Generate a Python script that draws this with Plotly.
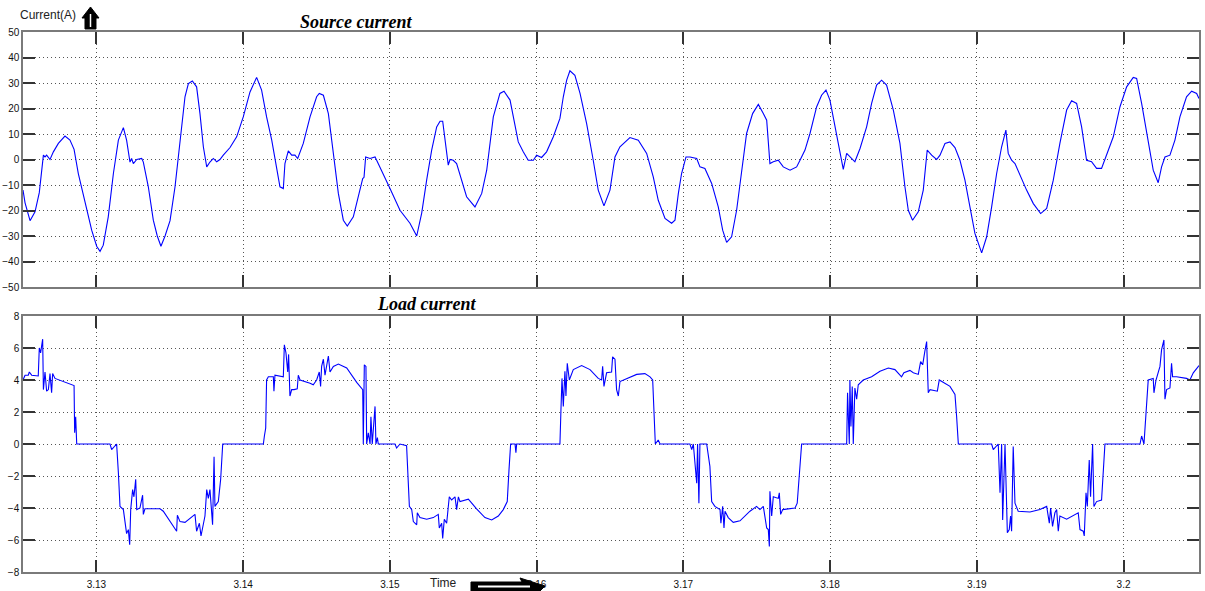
import plotly.graph_objects as go
from plotly.subplots import make_subplots

# ---- Source current (A) samples ----
src_t = [3.12500, 3.12514, 3.12548, 3.12582, 3.12611, 3.12627, 3.12639, 3.12650, 3.12661, 3.12684,
         3.12707, 3.12741, 3.12786, 3.12820, 3.12848, 3.12877, 3.12922, 3.12968, 3.13002, 3.13025,
         3.13047, 3.13081, 3.13116, 3.13150, 3.13184, 3.13206, 3.13229, 3.13240, 3.13252, 3.13275,
         3.13309, 3.13320, 3.13354, 3.13388, 3.13415, 3.13440, 3.13468, 3.13502, 3.13536, 3.13570,
         3.13604, 3.13627, 3.13654, 3.13683, 3.13706, 3.13729, 3.13752, 3.13774, 3.13797, 3.13820,
         3.13842, 3.13865, 3.13911, 3.13956, 3.14001, 3.14047, 3.14092, 3.14126, 3.14160, 3.14195,
         3.14229, 3.14251, 3.14274, 3.14285, 3.14308, 3.14331, 3.14353, 3.14372, 3.14410, 3.14456,
         3.14501, 3.14519, 3.14547, 3.14581, 3.14615, 3.14649, 3.14683, 3.14710, 3.14751, 3.14792,
         3.14815, 3.14824, 3.14835, 3.14865, 3.14899, 3.14910, 3.14955, 3.15001, 3.15069, 3.15137,
         3.15183, 3.15217, 3.15251, 3.15285, 3.15319, 3.15342, 3.15360, 3.15382, 3.15398, 3.15410,
         3.15432, 3.15455, 3.15489, 3.15523, 3.15580, 3.15626, 3.15660, 3.15705, 3.15750, 3.15778,
         3.15819, 3.15853, 3.15875, 3.15909, 3.15943, 3.15978, 3.16000, 3.16034, 3.16068, 3.16114,
         3.16159, 3.16182, 3.16205, 3.16227, 3.16261, 3.16296, 3.16341, 3.16386, 3.16420, 3.16459,
         3.16500, 3.16534, 3.16568, 3.16636, 3.16693, 3.16750, 3.16795, 3.16829, 3.16875, 3.16920,
         3.16943, 3.16966, 3.16988, 3.17018, 3.17045, 3.17091, 3.17113, 3.17147, 3.17193, 3.17238,
         3.17268, 3.17295, 3.17329, 3.17363, 3.17397, 3.17431, 3.17472, 3.17511, 3.17545, 3.17568,
         3.17590, 3.17613, 3.17647, 3.17681, 3.17727, 3.17772, 3.17795, 3.17829, 3.17863, 3.17908,
         3.17942, 3.17972, 3.17999, 3.18033, 3.18067, 3.18090, 3.18113, 3.18135, 3.18169, 3.18204,
         3.18249, 3.18283, 3.18317, 3.18351, 3.18385, 3.18431, 3.18476, 3.18510, 3.18533, 3.18562,
         3.18601, 3.18635, 3.18662, 3.18692, 3.18726, 3.18749, 3.18783, 3.18817, 3.18851, 3.18885,
         3.18919, 3.18953, 3.18987, 3.19033, 3.19067, 3.19101, 3.19135, 3.19169, 3.19185, 3.19198,
         3.19214, 3.19237, 3.19260, 3.19294, 3.19339, 3.19385, 3.19435, 3.19476, 3.19521, 3.19566,
         3.19612, 3.19646, 3.19680, 3.19714, 3.19748, 3.19782, 3.19816, 3.19850, 3.19884, 3.19930,
         3.19975, 3.20021, 3.20066, 3.20089, 3.20123, 3.20168, 3.20202, 3.20236, 3.20259, 3.20282,
         3.20316, 3.20350, 3.20384, 3.20429, 3.20464, 3.20498, 3.20514]
src_i = [-12, -17, -24, -20.5, -13, -5.5, 1.7, 1, 1.7, 0,
         3, 6.3, 9.2, 7.6, 4, -5.5, -16, -27.7, -34, -36,
         -33.6, -22.5, -5.5, 7.6, 12.5, 7.6, -1, 0.4, -1.6, 0,
         0.4, -1, -10.7, -23.8, -30, -34, -30, -24, -10.7, 7.6,
         24.6, 29.8, 30.8, 28.5, 18, 5, -2.9, -1, 0.4, -0.9,
         0, 1.7, 4.7, 8.9, 16.7, 26.5, 32.2, 27.2, 16.7, 7.6,
         -4.2, -10.7, -11.4, -1.6, 3.4, 1.7, 1.7, 0.4, 6.3, 16.7,
         24.6, 25.9, 25.2, 18, 2.4, -13.3, -23.8, -26.1, -22.5, -13.3,
         -7.5, -7, 1, 0.4, 1, -0.3, -5.5, -11.4, -19.9, -25,
         -30, -21, -8, 3.7, 12.8, 15, 15, 5, -2.2, 0,
         -0.3, -1.6, -8.1, -14.6, -18.6, -13.3, -4.2, 16.7, 25.9, 26.8,
         23.3, 14.1, 6.9, 3, -0.3, -0.3, 1.7, 0.8, 3, 8.9,
         16.1, 24.6, 31.1, 34.8, 33, 25.9, 14.1, -0.3, -12, -18.2,
         -12, 1, 5, 8.6, 7.6, 2.4, -6.8, -16, -23.1, -25,
         -23.8, -13.3, -5.5, 1, 1, 0.4, -2.9, -3.5, -9.4, -18.6,
         -27.7, -32.5, -30.3, -19.9, -5.5, 10.2, 18, 21.6, 18, 15.4,
         -1.6, -0.9, -0.3, -2.9, -4.2, -2.9, -0.3, 3.7, 10.2, 20.6,
         25.2, 27.2, 23.3, 12.8, 3.7, -3.9, 2.4, 1, -0.9, 4.3,
         12.8, 22, 29.2, 31.1, 29.2, 19.4, 6.3, -10.7, -19.9, -23.8,
         -20.5, -12, 3.7, 1.7, 0, 1.7, 6.3, 6.9, 4.7, -0.3,
         -8.1, -18.6, -29, -36.6, -30.3, -18.6, -5.5, 5, 8.9, 11.5,
         2.4, -0.3, -1.6, -6.1, -12, -17.3, -21.2, -19.2, -8.1, 6.3,
         19.4, 23, 22, 12.8, -0.3, -0.9, -3.5, -3.5, 1.7, 8.9,
         20.6, 28.5, 32.2, 31.8, 22, 7.6, -4.2, -9.1, -2.9, 1,
         1.7, 7.6, 16.7, 24.6, 26.8, 25.9, 23.9]

# ---- Load current (A) samples ----
load_t = [3.12500, 3.12514, 3.12536, 3.12543, 3.12559, 3.12604, 3.12611, 3.12620, 3.12634, 3.12639,
          3.12650, 3.12661, 3.12673, 3.12684, 3.12695, 3.12702, 3.12718, 3.12848, 3.12852, 3.12859,
          3.12866, 3.13093, 3.13104, 3.13138, 3.13150, 3.13161, 3.13184, 3.13195, 3.13206, 3.13218,
          3.13227, 3.13234, 3.13247, 3.13256, 3.13268, 3.13275, 3.13297, 3.13315, 3.13320, 3.13331,
          3.13434, 3.13456, 3.13479, 3.13513, 3.13547, 3.13552, 3.13570, 3.13604, 3.13649, 3.13672,
          3.13683, 3.13702, 3.13713, 3.13724, 3.13740, 3.13752, 3.13763, 3.13774, 3.13792, 3.13802,
          3.13808, 3.13831, 3.13847, 3.13861, 3.14138, 3.14145, 3.14154, 3.14160, 3.14172, 3.14206,
          3.14210, 3.14217, 3.14274, 3.14281, 3.14292, 3.14304, 3.14310, 3.14319, 3.14331, 3.14347,
          3.14369, 3.14376, 3.14388, 3.14456, 3.14478, 3.14501, 3.14519, 3.14528, 3.14535, 3.14547,
          3.14558, 3.14581, 3.14592, 3.14615, 3.14649, 3.14706, 3.14774, 3.14815, 3.14819, 3.14826,
          3.14837, 3.14842, 3.14853, 3.14865, 3.14871, 3.14880, 3.14899, 3.14905, 3.14915, 3.14921,
          3.15035, 3.15046, 3.15069, 3.15114, 3.15133, 3.15149, 3.15160, 3.15183, 3.15187, 3.15205,
          3.15251, 3.15296, 3.15330, 3.15337, 3.15353, 3.15360, 3.15371, 3.15387, 3.15405, 3.15421,
          3.15444, 3.15455, 3.15467, 3.15478, 3.15535, 3.15591, 3.15648, 3.15694, 3.15739, 3.15773,
          3.15800, 3.15812, 3.15823, 3.15853, 3.15859, 3.15864, 3.16159, 3.16166, 3.16173, 3.16182,
          3.16193, 3.16200, 3.16209, 3.16223, 3.16250, 3.16307, 3.16364, 3.16420, 3.16443, 3.16450,
          3.16459, 3.16477, 3.16511, 3.16518, 3.16534, 3.16545, 3.16557, 3.16568, 3.16614, 3.16682,
          3.16738, 3.16773, 3.16791, 3.16800, 3.16809, 3.16829, 3.16841, 3.17045, 3.17057, 3.17068,
          3.17079, 3.17091, 3.17097, 3.17106, 3.17113, 3.17159, 3.17181, 3.17193, 3.17215, 3.17250,
          3.17256, 3.17268, 3.17277, 3.17284, 3.17306, 3.17340, 3.17386, 3.17454, 3.17499, 3.17522,
          3.17545, 3.17556, 3.17568, 3.17579, 3.17586, 3.17590, 3.17602, 3.17613, 3.17647, 3.17654,
          3.17663, 3.17677, 3.17761, 3.17776, 3.17790, 3.17806, 3.18113, 3.18119, 3.18131, 3.18135,
          3.18142, 3.18151, 3.18158, 3.18169, 3.18181, 3.18192, 3.18226, 3.18283, 3.18340, 3.18397,
          3.18442, 3.18476, 3.18487, 3.18503, 3.18544, 3.18567, 3.18601, 3.18617, 3.18631, 3.18646,
          3.18658, 3.18669, 3.18681, 3.18731, 3.18744, 3.18817, 3.18851, 3.18862, 3.18874, 3.19101,
          3.19112, 3.19146, 3.19158, 3.19169, 3.19176, 3.19192, 3.19208, 3.19221, 3.19230, 3.19237,
          3.19248, 3.19260, 3.19282, 3.19362, 3.19430, 3.19476, 3.19494, 3.19503, 3.19516, 3.19532,
          3.19544, 3.19555, 3.19566, 3.19612, 3.19691, 3.19703, 3.19725, 3.19732, 3.19744, 3.19753,
          3.19766, 3.19775, 3.19789, 3.19798, 3.19816, 3.19850, 3.19862, 3.19873, 3.20112, 3.20123,
          3.20139, 3.20157, 3.20168, 3.20202, 3.20207, 3.20221, 3.20248, 3.20259, 3.20275, 3.20282,
          3.20293, 3.20316, 3.20327, 3.20334, 3.20361, 3.20429, 3.20452, 3.20475, 3.20514]
load_i = [4.0, 4.3, 4.3, 4.5, 4.3, 4.25, 6.0, 5.7, 6.55, 3.4,
          4.5, 3.3, 3.4, 4.4, 3.2, 4.4, 4.1, 3.65, 0.7, 1.7,
          0, 0, -0.35, 0, -1.8, -3.9, -4.1, -4.9, -5.6, -5.35,
          -6.3, -4.1, -2.85, -3.3, -2.2, -4.1, -4.0, -3.2, -4.4, -4.05,
          -4.05, -4.2, -4.5, -5.0, -5.45, -4.45, -4.85, -4.9, -4.6, -4.4,
          -5.45, -4.95, -5.75, -5.15, -4.5, -2.85, -3.4, -2.85, -5.05, -0.8,
          -3.9, -3.6, -2.2, 0, 0, 0.5, 1.0, 4.0, 4.2, 4.2,
          3.3, 4.3, 4.2, 6.2, 5.7, 4.5, 5.6, 3.0, 3.4, 3.4,
          3.45, 4.3, 4.0, 3.8, 3.7, 4.0, 4.5, 3.6, 4.85, 5.3,
          4.3, 5.5, 4.5, 4.85, 5.0, 4.75, 3.85, 3.4, 0, 4.95,
          4.85, 0, 0.7, 0, 1.7, 0, 2.35, 0, 0.4, 0,
          0, -0.25, 0, -0.1, -3.9, -4.1, -4.85, -5.05, -4.3, -4.6,
          -4.7, -4.6, -4.4, -5.25, -4.95, -5.9, -4.7, -4.95, -3.3, -3.5,
          -3.3, -4.1, -3.3, -3.6, -3.45, -4.05, -4.6, -4.75, -4.5, -4.1,
          -3.6, -1.6, 0, 0, -0.55, 0, 0, 2.15, 4.1, 2.35,
          4.55, 3.0, 5.05, 4.0, 4.65, 4.9, 4.65, 4.1, 4.0, 4.85,
          3.6, 4.45, 4.5, 5.45, 5.3, 3.4, 3.0, 3.9, 4.1, 4.35,
          4.4, 4.2, 4.0, 1.75, 0, 0.25, 0, 0, -0.35, 0,
          -1.2, -2.45, 0, -3.7, 0, 0, -1.4, -3.6, -3.9, -4.1,
          -4.95, -3.9, -5.25, -4.2, -4.6, -4.9, -4.8, -4.2, -3.9, -4.1,
          -3.9, -4.5, -5.25, -5.35, -6.4, -2.95, -4.5, -3.3, -3.4, -3.05,
          -4.4, -4.1, -4.0, -3.7, -2.1, 0, 0, 3.2, 0, 4.0,
          1.1, 3.6, 0, 3.5, 2.8, 3.7, 4.0, 4.2, 4.55, 4.75,
          4.65, 4.35, 4.2, 4.45, 4.6, 4.45, 4.35, 5.15, 4.95, 5.8,
          6.4, 3.2, 3.4, 3.3, 4.0, 3.6, 3.1, 1.75, 0, 0,
          -0.35, 0, -3.05, 0, -4.75, 0, -5.55, -5.35, -4.5, -5.45,
          -0.15, -3.7, -4.2, -4.25, -4.1, -3.9, -4.95, -4.0, -5.15, -4.3,
          -4.1, -5.45, -4.5, -4.7, -4.3, -5.35, -5.45, -5.75, -3.05, -3.9,
          -1.0, -3.3, 0, -3.9, -3.6, -3.5, -1.6, 0, 0, 0.5,
          0, 2.15, 4.0, 4.1, 3.2, 4.0, 4.85, 5.9, 6.5, 2.8,
          3.4, 3.5, 5.05, 4.2, 4.2, 4.1, 4.0, 4.45, 4.9]

# ---- Axis settings ----
t_range = [3.125, 3.20514]
t_ticks = [3.13, 3.14, 3.15, 3.16, 3.17, 3.18, 3.19, 3.20]
t_labels = ["3.13", "3.14", "3.15", "3.16", "3.17", "3.18", "3.19", "3.2"]
src_ticks = [-50, -40, -30, -20, -10, 0, 10, 20, 30, 40, 50]
load_ticks = [-8, -6, -4, -2, 0, 2, 4, 6, 8]

W, H = 1205, 591
ML, MR, MT, MB = 23, 6, 32, 19
PH = H - MT - MB

fig = make_subplots(rows=2, cols=1, shared_xaxes=False, vertical_spacing=0.0)

trace_style = dict(mode="lines", line=dict(color="#0000ff", width=1.1), showlegend=False,
                   hoverinfo="skip")
fig.add_trace(go.Scatter(x=src_t, y=src_i, **trace_style), row=1, col=1)
fig.add_trace(go.Scatter(x=load_t, y=load_i, **trace_style), row=2, col=1)

tick_font = dict(family="Liberation Sans, Arial, sans-serif", size=10, color="#111111")
axis_common = dict(
    showline=True, mirror="ticks", linecolor="#7a7a7a", linewidth=1.5,
    ticks="inside", ticklen=12, tickwidth=1.5, tickcolor="#333333",
    showgrid=True, gridcolor="#555555", griddash="1px,3px", gridwidth=1,
    zeroline=False, tickfont=tick_font, automargin=False,
)

fig.update_xaxes(range=t_range, tickvals=t_ticks, ticktext=t_labels, **axis_common)
fig.update_xaxes(showticklabels=False, row=1, col=1)
fig.update_xaxes(ticklabelstandoff=2, row=2, col=1)
fig.update_yaxes(**axis_common)
fig.update_yaxes(range=[-50, 50], tickvals=src_ticks, row=1, col=1)
fig.update_yaxes(range=[-8, 8], tickvals=load_ticks, row=2, col=1)

# Panel placement (top: source current, bottom: load current)
fig.update_layout(
    yaxis=dict(domain=[1 - 255 / PH, 1.0]),
    yaxis2=dict(domain=[0.0, 256 / PH]),
    xaxis=dict(domain=[0, 1]),
    xaxis2=dict(domain=[0, 1]),
)


def px(x):
    return (x - ML) / (W - ML - MR)


def py(y):
    return (H - MB - y) / PH


title_font = dict(family="Liberation Serif, Times New Roman, serif", size=18, color="#000000",
                  weight="bold", style="italic")
annotations = [
    dict(text="Source current", x=px(356), y=py(22), xref="paper", yref="paper",
         showarrow=False, font=title_font, xanchor="center", yanchor="middle"),
    dict(text="Load current", x=px(427), y=py(304), xref="paper", yref="paper",
         showarrow=False, font=title_font, xanchor="center", yanchor="middle"),
    dict(text="Current(A)", x=px(18), y=py(15), xref="paper", yref="paper",
         showarrow=False, xanchor="left", yanchor="middle",
         font=dict(family="Liberation Sans, Arial, sans-serif", size=12, color="#222222")),
    dict(text="Time", x=px(443), y=py(583), xref="paper", yref="paper",
         showarrow=False, xanchor="center", yanchor="middle",
         font=dict(family="Liberation Sans, Arial, sans-serif", size=12, color="#222222")),
]


def path(points):
    return "M " + " L ".join(f"{px(a):.5f},{py(b):.5f}" for a, b in points) + " Z"


shapes = [
    # upward block arrow beside the y-axis label
    dict(type="path", xref="paper", yref="paper", layer="above",
         path=path([(85, 29), (85, 18), (82, 18), (90.5, 7), (99, 18), (96, 18), (96, 29)]),
         fillcolor="#000000", line=dict(color="#000000", width=1)),
    dict(type="line", xref="paper", yref="paper", layer="above",
         x0=px(90.5), x1=px(90.5), y0=py(14), y1=py(27),
         line=dict(color="#ffffff", width=1.5)),
    # rightward block arrow beside the time label
    dict(type="path", xref="paper", yref="paper", layer="above",
         path=path([(471, 582), (522, 582), (520, 578), (545, 586), (540, 591), (471, 591)]),
         fillcolor="#000000", line=dict(color="#000000", width=1)),
    dict(type="line", xref="paper", yref="paper", layer="above",
         x0=px(478), x1=px(530), y0=py(586.5), y1=py(586.5),
         line=dict(color="#ffffff", width=2)),
]

fig.update_layout(
    width=W, height=H,
    margin=dict(l=ML, r=MR, t=MT, b=MB, pad=0),
    paper_bgcolor="#ffffff", plot_bgcolor="#ffffff",
    annotations=annotations, shapes=shapes,
)

fig.write_html("out.html")
